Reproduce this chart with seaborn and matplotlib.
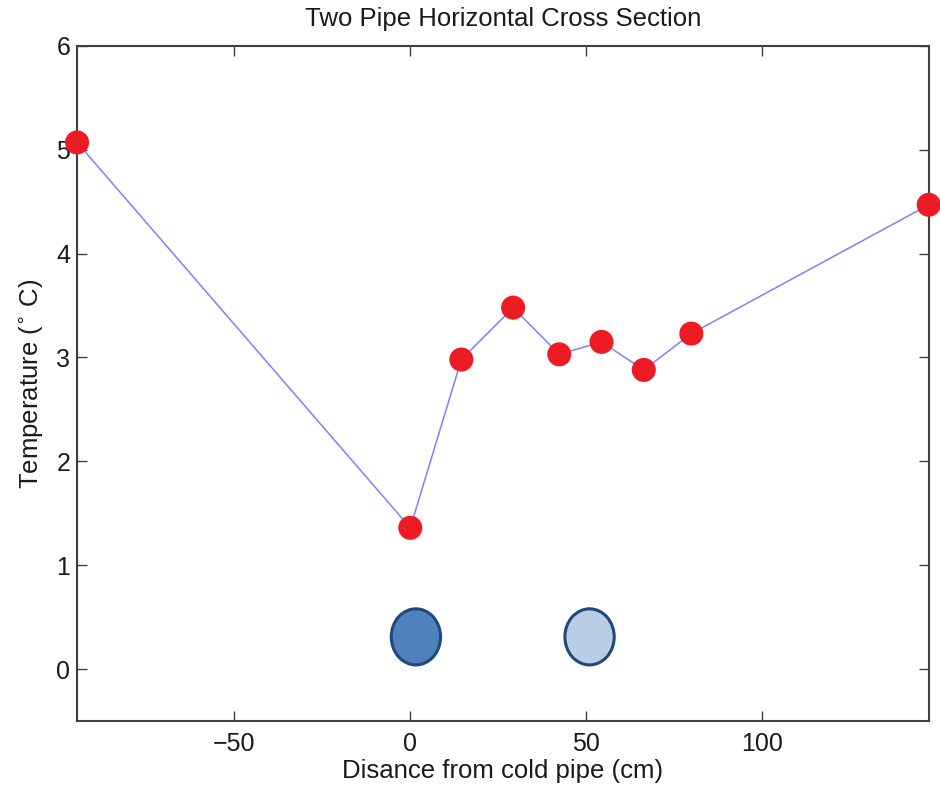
import seaborn as sns
import matplotlib.pyplot as plt
import pandas as pd
from matplotlib.patches import Ellipse

# Measured temperatures along the horizontal cross section
distance_cm = [-94.6, 0.0, 14.5, 29.2, 42.3, 54.3, 66.3, 79.8, 147.2]
temperature_c = [5.07, 1.36, 2.98, 3.48, 3.03, 3.15, 2.88, 3.23, 4.47]

# Pipe positions (x, y) and fill colours
pipe_x = [1.6, 50.9]
pipe_y = [0.31, 0.31]
pipe_colors = ["#4f81bd", "#b9cde5"]

x_ticks = [-50, 0, 50, 100]
y_ticks = [0, 1, 2, 3, 4, 5, 6]

df = pd.DataFrame({"Distance": distance_cm, "Temperature": temperature_c})

sns.set_style("ticks")
plt.rcParams["font.family"] = ["Liberation Sans", "DejaVu Sans"]

fig = plt.figure(figsize=(9.4, 7.91), dpi=100)
ax = fig.add_axes([0.082, 0.0885, 0.906, 0.8535])

sns.lineplot(data=df, x="Distance", y="Temperature", ax=ax,
             color="#8080ff", linewidth=1.1, sort=False)
sns.scatterplot(data=df, x="Distance", y="Temperature", ax=ax,
                color="#ed1c24", s=300, edgecolor="none", zorder=5, clip_on=False)

# the two pipes
for px, py, pc in zip(pipe_x, pipe_y, pipe_colors):
    ax.add_patch(Ellipse((px, py), width=14.0, height=0.54,
                         facecolor=pc, edgecolor="#1f497d", linewidth=2.2, zorder=4))

ax.set_xlim(distance_cm[0], distance_cm[-1])
ax.set_ylim(-0.5, 6)
ax.set_xticks(x_ticks)
ax.set_yticks(y_ticks)
ax.set_xticklabels(["\u221250", "0", "50", "100"])

ax.tick_params(direction="in", top=True, right=True, length=7,
               width=1, colors="#404040", labelsize=18, labelcolor="#1a1a1a")
ax.tick_params(axis="x", pad=8)
ax.tick_params(axis="y", pad=5)
for spine in ax.spines.values():
    spine.set_visible(True)
    spine.set_color("#404040")
    spine.set_linewidth(1.5)

ax.set_xlabel("Disance from cold pipe (cm)", fontsize=18.5, color="#1a1a1a", labelpad=2)
ax.set_ylabel(r"Temperature ($^{\circ}$ C)", fontsize=18.5, color="#1a1a1a", labelpad=8)
ax.set_title("Two Pipe Horizontal Cross Section", fontsize=18.5, color="#1a1a1a", pad=14)

plt.savefig("out.png", dpi=100)
